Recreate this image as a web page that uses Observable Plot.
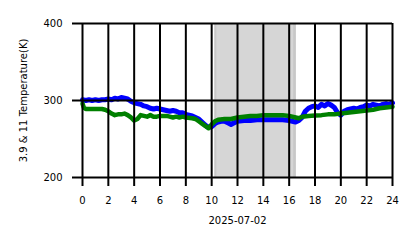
<!DOCTYPE html>
<html>
<head>
<meta charset="utf-8">
<script src="https://cdn.jsdelivr.net/npm/d3@7"></script>
<script src="https://cdn.jsdelivr.net/npm/@observablehq/plot@0.6"></script>
<style>
  html, body { margin: 0; padding: 0; background: #fff; }
</style>
</head>
<body>
<div id="chart"></div>
<script>
// ---- data ----
const xTicks = [0, 2, 4, 6, 8, 10, 12, 14, 16, 18, 20, 22, 24];
const yTicks = [200, 300, 400];
const dateLabel = "2025-07-02";
const yLabel = "3.9 & 11 Temperature(K)";
const shadeStart = 10.25;
const shadeEnd = 16.55;

const blueHours = [0, 0.25, 0.5, 0.75, 1, 1.25, 1.5, 1.75, 2, 2.25, 2.5, 2.75, 3, 3.25, 3.5, 3.75, 4, 4.25, 4.5, 4.75, 5, 5.25, 5.5, 5.75, 6, 6.25, 6.5, 6.75, 7, 7.25, 7.5, 7.75, 8, 8.25, 8.5, 8.75, 9, 9.25, 9.5, 9.75, 10, 10.25, 10.5, 10.75, 11, 11.25, 11.5, 11.75, 12, 12.5, 13, 13.5, 14, 14.5, 15, 15.5, 16, 16.25, 16.5, 16.75, 17, 17.25, 17.5, 17.75, 18, 18.25, 18.5, 18.75, 19, 19.25, 19.5, 19.75, 20, 20.25, 20.5, 20.75, 21, 21.25, 21.5, 21.75, 22, 22.25, 22.5, 22.75, 23, 23.25, 23.5, 23.75, 24];
const blueTemp = [301, 300, 301, 300, 301, 300, 301, 301, 302, 301, 303, 302, 304, 303, 302, 299, 297, 296, 295, 293, 292, 290, 289, 290, 289, 288, 287, 286, 287, 286, 284, 284, 282, 281, 280, 278, 276, 272, 268, 265, 266, 270, 272, 273, 273, 271, 269, 271, 273, 274, 274, 275, 275, 275, 275, 275, 274, 273, 272, 274, 278, 286, 290, 292, 293, 291, 295, 293, 296, 294, 291, 284, 281, 286, 288, 289, 290, 289, 291, 292, 294, 293, 295, 294, 293, 295, 296, 295, 297];

const greenHours = [0, 0.1, 0.25, 0.5, 1, 1.5, 1.75, 2, 2.25, 2.5, 2.75, 3, 3.25, 3.5, 3.75, 4, 4.25, 4.5, 4.75, 5, 5.25, 5.5, 5.75, 6, 6.25, 6.5, 6.75, 7, 7.25, 7.5, 7.75, 8, 8.5, 8.75, 9, 9.25, 9.5, 9.75, 10, 10.25, 10.5, 11, 11.5, 12, 12.5, 13, 13.5, 14, 14.5, 15, 15.5, 16, 16.5, 16.75, 17, 17.5, 18, 18.5, 19, 19.5, 20, 20.5, 21, 21.5, 22, 22.5, 23, 23.5, 24];
const greenTemp = [296, 291, 289, 289, 289, 289, 288, 286, 283, 281, 282, 282, 283, 281, 278, 274, 276, 281, 280, 279, 281, 279, 279, 280, 280, 280, 279, 278, 279, 278, 279, 278, 277, 276, 273, 270, 267, 264, 269, 273, 275, 276, 276, 278, 279, 280, 280, 281, 281, 281, 281, 280, 278, 277, 279, 280, 280.5, 281, 282, 282, 283, 284, 285, 286, 287, 288, 290, 291, 292];

const blue = blueHours.map((h, i) => ({h, t: blueTemp[i]}));
const green = greenHours.map((h, i) => ({h, t: greenTemp[i]}));

const chart = Plot.plot({
  width: 418,
  height: 248,
  marginLeft: 82,
  marginRight: 26,
  marginTop: 23,
  marginBottom: 71,
  style: {fontFamily: "DejaVu Sans", fontSize: "10px", background: "#fff", color: "#000"},
  x: {domain: [0, 24]},
  y: {domain: [200, 400]},
  marks: [
    Plot.rect([{x1: shadeStart, x2: shadeEnd}], {x1: "x1", x2: "x2", y1: 200, y2: 400, fill: "#d6d6d6"}),
    Plot.rect([{x1: shadeStart, x2: shadeStart + 0.15}, {x1: shadeEnd - 0.2, x2: shadeEnd}], {x1: "x1", x2: "x2", y1: 200, y2: 400, fill: "#c8c8c8"}),
    Plot.line(blue, {x: "h", y: "t", stroke: "#0000ff", strokeWidth: 5}),
    Plot.line(green, {x: "h", y: "t", stroke: "#008000", strokeWidth: 4.5}),
    Plot.ruleX(xTicks, {stroke: "#000", strokeWidth: 2}),
    Plot.ruleY(yTicks, {stroke: "#000", strokeWidth: 2}),
    Plot.axisX({ticks: xTicks, tickSize: 9, tickPadding: 10, strokeWidth: 2, label: null}),
    Plot.axisY({ticks: yTicks, tickSize: 10, tickPadding: 10, strokeWidth: 2, label: null}),
    Plot.text([dateLabel], {frameAnchor: "bottom", dy: 46}),
    Plot.text([yLabel], {frameAnchor: "left", textAnchor: "middle", rotate: -90, dx: -59})
  ]
});
document.getElementById("chart").appendChild(chart);
</script>
</body>
</html>
